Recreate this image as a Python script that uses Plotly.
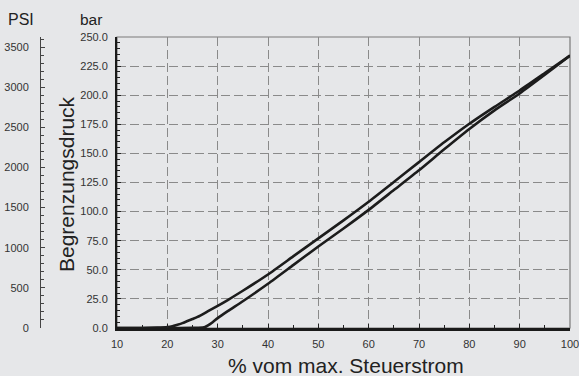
import plotly.graph_objects as go

# Data
upper_x = [10, 15, 18, 20, 21, 22, 23, 24, 25, 26, 28, 30, 32, 35, 40, 45, 50, 55, 60, 65, 70, 75, 80, 85, 90, 95, 100]
upper_y = [0, 0, 0.3, 0.8, 1.5, 2.8, 4.2, 6, 7.7, 9.5, 14.2, 19, 24, 32, 46, 61.5, 77, 92.5, 108.5, 125.5, 142.5, 159.5, 175.5, 190, 204, 219, 234]

lower_x = [10, 20, 25, 26, 27, 27.5, 28, 29, 30, 32, 35, 40, 45, 50, 55, 60, 65, 70, 75, 80, 85, 90, 95, 100]
lower_y = [0, 0, 0.1, 0.2, 0.4, 0.8, 2, 5, 8.5, 14.5, 23, 38, 54, 70, 85.5, 101.5, 118.5, 135.5, 153.5, 171, 187, 201.5, 217.5, 234]

x_ticks = [10, 20, 30, 40, 50, 60, 70, 80, 90, 100]
bar_ticks = [0, 25, 50, 75, 100, 125, 150, 175, 200, 225, 250]
psi_ticks = [0, 500, 1000, 1500, 2000, 2500, 3000, 3500]
BAR_TO_PSI = 14.5038

BG = "#e6e7e9"
TXT = "#333333"
GRID = "#8a8a8a"
DASH = "9px,4px"

fig = go.Figure()
for xs, ys in ((upper_x, upper_y), (lower_x, lower_y)):
    fig.add_trace(go.Scatter(x=xs, y=ys, mode="lines", line=dict(color="#1c1c1c", width=2.6, shape="spline", smoothing=0.6),
                             showlegend=False, hoverinfo="skip"))

# invisible trace for PSI axis
fig.add_trace(go.Scatter(x=[10], y=[0], yaxis="y2", mode="markers", marker=dict(opacity=0), showlegend=False, hoverinfo="skip"))

W, H = 579, 376
ml, mr, mt, mb = 20, 9, 37, 48
pw = W - ml - mr
ph = H - mt - mb
x0 = (117 - ml) / pw
psi_pos = (40 - ml) / pw


def px_x(p):
    return (p - ml) / pw


def px_y(p):
    return (H - mb - p) / ph


fig.update_layout(
    width=W, height=H,
    margin=dict(l=ml, r=mr, t=mt, b=mb, autoexpand=False),
    paper_bgcolor=BG, plot_bgcolor=BG,
    font=dict(family="Liberation Sans, Arial, sans-serif", color=TXT, size=11),
    xaxis=dict(domain=[x0, 1], range=[10, 100], tickvals=x_ticks, ticks="inside", ticklen=4, tickcolor="#222",
               showline=True, linecolor="#1a1a1a", linewidth=2.5, automargin=False, ticklabeloverflow="allow",
               showgrid=True, gridcolor=GRID, griddash=DASH, gridwidth=1, zeroline=False,
               minor=dict(dtick=5, tick0=10, ticks="inside", ticklen=3, tickcolor="#222", showgrid=False),
               ticklabelstandoff=4, tickfont=dict(size=11, color=TXT)),
    yaxis=dict(range=[0, 250], tickvals=bar_ticks, tickformat=".1f", ticks="inside", ticklen=4, tickcolor="#222",
               showline=True, linecolor="#1a1a1a", linewidth=2, automargin=False,
               showgrid=True, gridcolor=GRID, griddash=DASH, gridwidth=1, zeroline=False,
               minor=dict(dtick=5, tick0=0, ticks="inside", ticklen=3, tickcolor="#222", showgrid=False),
               ticklabelstandoff=5, tickfont=dict(size=11, color=TXT)),
    yaxis2=dict(overlaying="y", anchor="free", position=psi_pos, side="left", automargin=False,
                range=[0, 250 * BAR_TO_PSI], tickvals=psi_ticks, tickformat="d", ticks="inside", ticklen=4,
                tickcolor="#444", showline=True, linecolor="#444", linewidth=1, showgrid=False, zeroline=False,
                minor=dict(dtick=100, tick0=0, ticks="inside", ticklen=3, tickcolor="#444"),
                ticklabelstandoff=9, tickfont=dict(size=11, color=TXT)),
    shapes=[dict(type="rect", xref="x domain", yref="y domain", x0=0, x1=1, y0=0, y1=1,
                 line=dict(color="#7a7a7a", width=1.2), layer="below")],
    annotations=[
        dict(text="% vom max. Steuerstrom", xref="paper", yref="paper", x=px_x(346), y=px_y(365),
             xanchor="center", yanchor="middle", showarrow=False, font=dict(size=21, color="#222")),
        dict(text="Begrenzungsdruck", xref="paper", yref="paper", x=px_x(66), y=px_y(184), textangle=-90,
             xanchor="center", yanchor="middle", showarrow=False, font=dict(size=21, color="#222")),
        dict(text="PSI", xref="paper", yref="paper", x=px_x(21), y=px_y(20),
             xanchor="center", yanchor="middle", showarrow=False, font=dict(size=16, color="#222")),
        dict(text="bar", xref="paper", yref="paper", x=px_x(91), y=px_y(19),
             xanchor="center", yanchor="middle", showarrow=False, font=dict(size=15.5, color="#222")),
    ],
)

fig.write_html("out.html", config={"displayModeBar": False},
               post_script="document.body.style.margin='0';document.body.style.background='%s';" % BG)
